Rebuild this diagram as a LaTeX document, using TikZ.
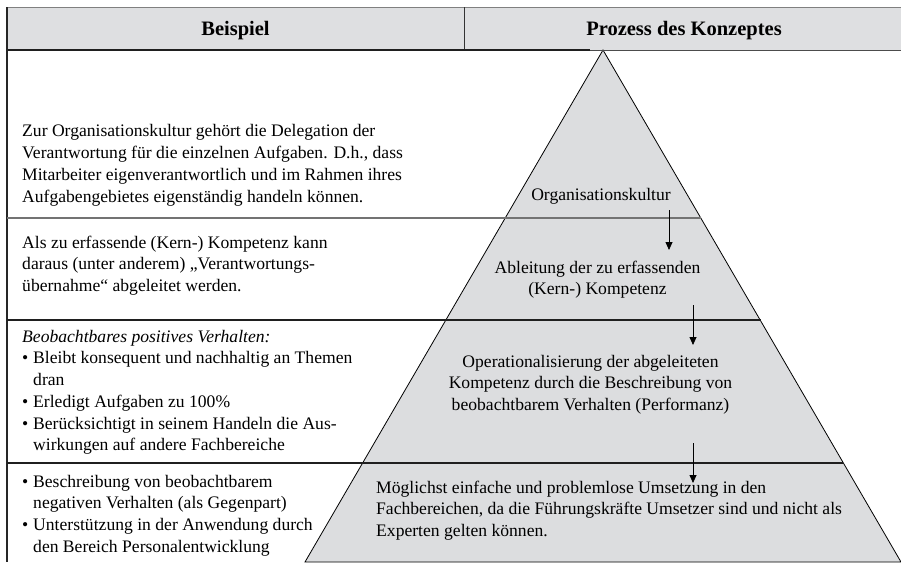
\documentclass[tikz,border=0pt]{standalone}
\usepackage{fontspec}
\setmainfont{Liberation Serif}
\usetikzlibrary{arrows.meta}
\definecolor{hdrgray}{HTML}{DEDFE1}
\definecolor{trigray}{HTML}{DCDDDF}
\newcommand{\myfl}{\rule{0pt}{15pt}}
\newcommand{\mybul}{\makebox[11pt][l]{•}}
\newcommand{\myind}{\hspace*{11pt}}
\tikzset{
  bodytext/.style={inner sep=0pt, font=\fontsize{17.6}{21.7}\selectfont},
  headtext/.style={inner sep=0pt, font=\fontsize{20.5}{24}\selectfont\bfseries},
  rowline/.style={line width=1.8pt, draw=black!88},
  flowarrow/.style={line width=0.8pt, -{Triangle[length=8pt,width=7pt]}},
}
\begin{document}
\begin{tikzpicture}[x=1pt,y=-1pt]
\useasboundingbox (0,0) rectangle (901,562);
% header
\fill[hdrgray] (7,7) rectangle (901,50);
\draw[line width=0.8pt, draw=black!50] (7,7) -- (901,7);
\draw[line width=0.9pt, draw=black!80] (464,7) -- (464,50);
% triangle
\draw[fill=trigray, line width=0.8pt] (603,50) -- (901,562) -- (305,562) -- cycle;
% header bottom
\draw[line width=0.9pt, draw=black!70] (590,50) -- (901,50);
\draw[line width=1.8pt, draw=black!88] (7,50) -- (590,50);
% left border
\draw[line width=2pt, draw=black!85] (7,7) -- (7,562);
% row lines
\draw[line width=1.5pt, draw=black!55] (7,218) -- (701,218);
\draw[rowline] (7,320) -- (761,320);
\draw[rowline] (7,463) -- (843,463);
% header texts
\node[headtext, anchor=base] (hB) at (235.5,35) {Beispiel};
\node[headtext, anchor=base] (hP) at (684,35) {Prozess des Konzeptes};
% left column texts
\node[bodytext, anchor=north west, align=left] (t1) at (22,121.7) {\myfl Zur Organisationskultur gehört die Delegation der\\Verantwortung für die einzelnen Aufgaben. D.h., dass\\Mitarbeiter eigenverantwortlich und im Rahmen ihres\\Aufgabengebietes eigenständig handeln können.};
\node[bodytext, anchor=north west, align=left] (t2) at (22,233) {\myfl Als zu erfassende (Kern-) Kompetenz kann\\daraus (unter anderem) „Verantwortungs-\\übernahme“ abgeleitet werden.};
\node[bodytext, anchor=north west, align=left] (t3) at (22,327) {\myfl\textit{Beobachtbares positives Verhalten:}\\\mybul Bleibt konsequent und nachhaltig an Themen\\\myind dran\\\mybul Erledigt Aufgaben zu 100\%\\\mybul Berücksichtigt in seinem Handeln die Aus-\\\myind wirkungen auf andere Fachbereiche};
\node[bodytext, anchor=north west, align=left] (t4) at (22,472) {\myfl\mybul Beschreibung von beobachtbarem\\\myind negativen Verhalten (als Gegenpart)\\\mybul Unterstützung in der Anwendung durch\\\myind den Bereich Personalentwicklung};
% pyramid texts
\node[bodytext, anchor=base] (p1) at (601,200) {Organisationskultur};
\node[bodytext, anchor=north, align=center] (p2) at (597.5,258) {\myfl Ableitung der zu erfassenden\\(Kern-) Kompetenz};
\node[bodytext, anchor=north, align=center] (p3) at (590.5,352) {\myfl Operationalisierung der abgeleiteten\\Kompetenz durch die Beschreibung von\\beobachtbarem Verhalten (Performanz)};
\node[bodytext, anchor=north west, align=left] (p4) at (376,478) {\myfl Möglichst einfache und problemlose Umsetzung in den\\Fachbereichen, da die Führungskräfte Umsetzer sind und nicht als\\Experten gelten können.};
% arrows
\coordinate (a1s) at (669,210);
\coordinate (a1e) at (669,250);
\coordinate (a2s) at (693,305);
\coordinate (a2e) at (693,345);
\coordinate (a3s) at (693,443);
\coordinate (a3e) at (693,483);
\draw[flowarrow] (a1s) -- (a1e);
\draw[flowarrow] (a2s) -- (a2e);
\draw[flowarrow] (a3s) -- (a3e);
\end{tikzpicture}
\end{document}
